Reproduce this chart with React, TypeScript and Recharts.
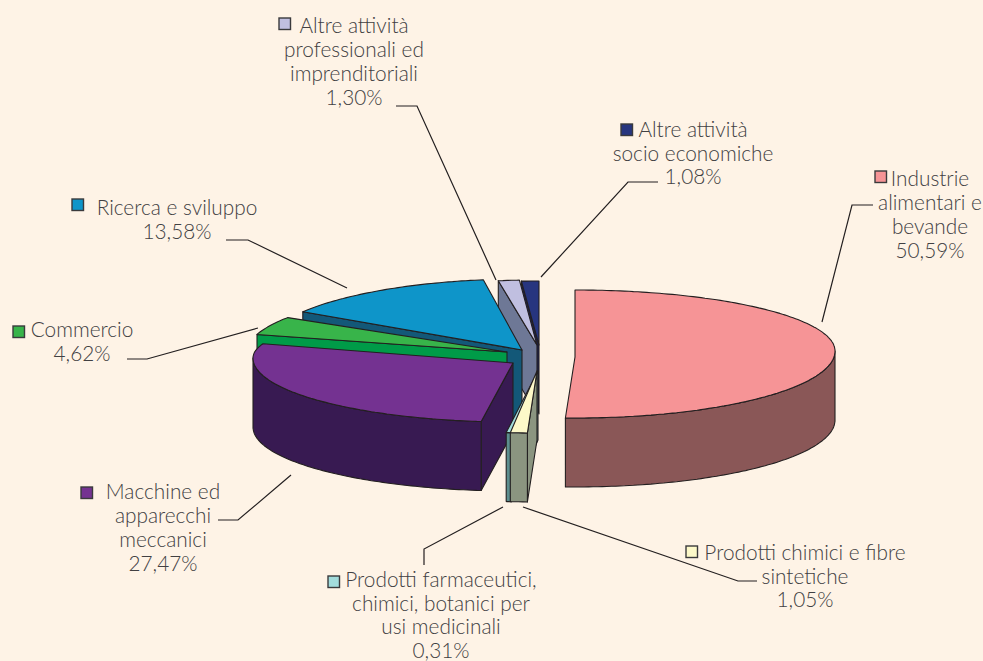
import { Pie, PieChart } from "recharts";

// draw order goes counter-clockwise from the top so the front slices paint last
const categories = [
  "Altre attività socio economiche",
  "Altre attività professionali ed imprenditoriali",
  "Ricerca e sviluppo",
  "Commercio",
  "Macchine ed apparecchi meccanici",
  "Prodotti farmaceutici, chimici, botanici per usi medicinali",
  "Prodotti chimici e fibre sintetiche",
  "Industrie alimentari e bevande",
];
const values = [1.08, 1.3, 13.58, 4.62, 27.47, 0.31, 1.05, 50.59];
const topColors = ["#27357f", "#c0bfe0", "#0e95c9", "#38b44a", "#743291", "#a2dcdc", "#fdf9c9", "#f69496"];
const wallColors = ["#1b1f4e", "#6e7896", "#135878", "#009b48", "#381a52", "#5c8e8e", "#8b9580", "#8a5757"];

const labelLines = [
  ["Altre attività", "socio economiche"],
  ["Altre attività", "professionali ed", "imprenditoriali"],
  ["Ricerca e sviluppo"],
  ["Commercio"],
  ["Macchine ed", "apparecchi", "meccanici"],
  ["Prodotti farmaceutici,", "chimici, botanici per", "usi medicinali"],
  ["Prodotti chimici e fibre", "sintetiche"],
  ["Industrie", "alimentari e", "bevande"],
];

// slice explosion and perspective: [dx, dy, back radius, front radius, tip dy]
const sliceLayout = [
  [19, -5, 64, 64, 0],
  [17, -5, 65, 65, 0],
  [2, 0, 71, 71, 0],
  [-13, 2, 64, 64, 0],
  [-7, 8, 52, 64, 5],
  [18, 21, 62, 62, 0],
  [17, 21, 62, 62, 0],
  [55, 1, 61, 67, 6],
];

// label block: center x, first baseline, line gap, square x, square y, leader points
const labelLayout = [
  { x: 693, y: 137, gap: 23.5, sx: 621, sy: 124, leader: "658,182 628,182 541,277" },
  { x: 354, y: 33, gap: 24, sx: 279, sy: 18, leader: "396,106 417,106 496,280" },
  { x: 177, y: 215, gap: 24, sx: 72, sy: 199, leader: "226,240 248,240 347,288" },
  { x: 82, y: 337, gap: 24, sx: 13, sy: 326, leader: "127,359 147,359 258,328" },
  { x: 163, y: 499, gap: 24, sx: 81, sy: 487, leader: "218,520 238,520 291,475" },
  { x: 441, y: 587, gap: 23.5, sx: 328, sy: 576, leader: "503,507 424,549 424,565" },
  { x: 805, y: 560, gap: 23.5, sx: 686, sy: 546, leader: "523,507 738,581 757,581" },
  { x: 930, y: 186, gap: 24, sx: 875, sy: 171, leader: "873,205 852,205 822,322" },
];

const data = categories.map((name, i) => ({ name, value: values[i], i }));

const DEPTH = 69;
const INK = "#231f20";
const rad = (d: number) => (d * Math.PI) / 180;

function SliceShape(p: any) {
  const i = p.i ?? p.payload?.i;
  const [dx, dy, rb, rf, tipDy] = sliceLayout[i];
  const a0 = Math.min(p.startAngle, p.endAngle);
  const a1 = Math.max(p.startAngle, p.endAngle);
  const t0 = (((Math.round((90 - a1) * 1e4) / 1e4) % 360) + 360) % 360;
  const t1 = t0 + (a1 - a0);
  const ox = p.cx + dx;
  const oy = p.cy + dy;
  const pt = (t: number, down = 0) => {
    const c = Math.cos(rad(t));
    return [ox + p.outerRadius * Math.sin(rad(t)), oy - (c > 0 ? rb : rf) * c + down];
  };
  const rim = (from: number, to: number, down = 0) => {
    const out: number[][] = [];
    for (let t = from; t < to; t += 1) out.push(pt(t, down));
    out.push(pt(to, down));
    return out;
  };
  const tip = [ox, oy + tipDy];
  const tipLow = [ox, oy + tipDy + DEPTH];
  const toD = (pts: number[][]) =>
    "M" + pts.map((q) => `${q[0].toFixed(1)},${q[1].toFixed(1)}`).join("L") + "Z";
  const wallStyle = { fill: wallColors[i], stroke: INK, strokeWidth: 1.1, strokeLinejoin: "round" as const };

  const from = Math.max(t0, 90);
  const to = Math.min(t1, 270);
  const endT = t1 % 360;

  return (
    <g>
      {t0 > 180 && <path d={toD([tip, pt(t0), pt(t0, DEPTH), tipLow])} {...wallStyle} />}
      {endT > 0 && endT < 180 && <path d={toD([tip, pt(t1), pt(t1, DEPTH), tipLow])} {...wallStyle} />}
      {from < to && <path d={toD([...rim(from, to), ...rim(from, to, DEPTH).reverse()])} {...wallStyle} />}
      <path
        d={toD([tip, ...rim(t0, t1)])}
        fill={topColors[i]}
        stroke={INK}
        strokeWidth={1.1}
        strokeLinejoin="round"
      />
    </g>
  );
}

function SliceLabel(p: any) {
  const i = p.i ?? p.payload?.i;
  const l = labelLayout[i];
  const lines = [...labelLines[i], values[i].toFixed(2).replace(".", ",") + "%"];
  return (
    <g>
      <rect x={l.sx} y={l.sy} width={11.5} height={11.5} fill={topColors[i]} stroke="#3a3a3c" strokeWidth={1.4} />
      {lines.map((line, k) => (
        <text
          key={k}
          x={l.x}
          y={l.y + k * l.gap}
          textAnchor="middle"
          fontFamily="Lato, sans-serif"
          fontWeight={300}
          fontSize={20.8}
          fill="#414042"
        >
          {line}
        </text>
      ))}
      <polyline points={l.leader} fill="none" stroke={INK} strokeWidth={1.2} />
    </g>
  );
}

export default function App() {
  return (
    <div
      style={{
        position: "absolute",
        left: 0,
        top: 0,
        width: 983,
        height: 661,
        overflow: "hidden",
        background: "#fef3e6",
      }}
    >
      <PieChart width={983} height={661} margin={{ top: 0, right: 0, bottom: 0, left: 0 }}>
        <Pie
          data={data}
          dataKey="value"
          nameKey="name"
          cx={520}
          cy={350}
          innerRadius={0}
          outerRadius={260}
          startAngle={90}
          endAngle={450}
          paddingAngle={0}
          shape={SliceShape}
          label={SliceLabel}
          labelLine={false}
          isAnimationActive={false}
        />
      </PieChart>
    </div>
  );
}
